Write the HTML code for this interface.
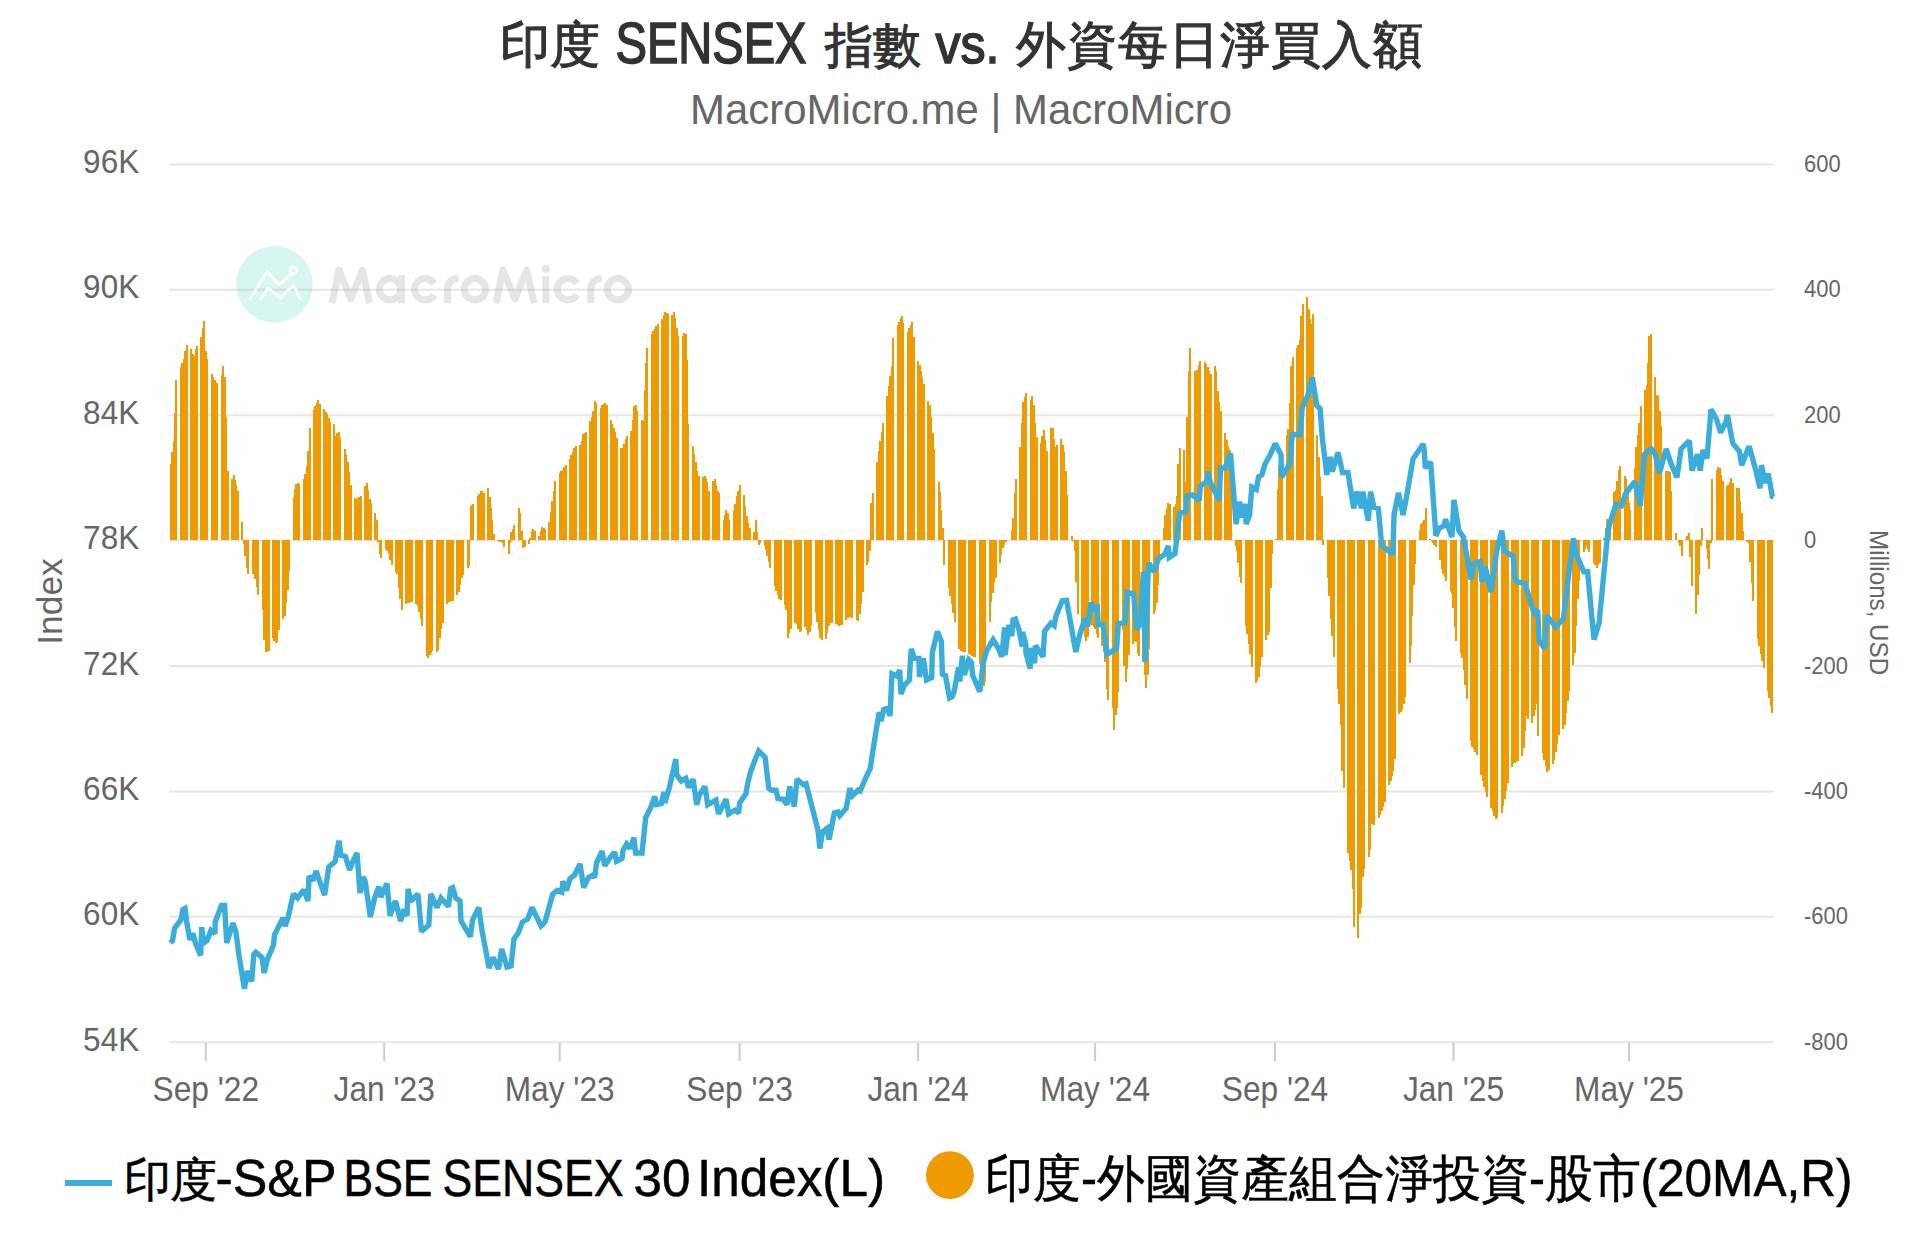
<!DOCTYPE html>
<html><head><meta charset="utf-8"><style>
html,body{margin:0;padding:0;background:#fff;width:1920px;height:1250px;overflow:hidden}
svg{display:block;font-family:"Liberation Sans",sans-serif}
</style></head><body>
<svg width="1920" height="1250" viewBox="0 0 1920 1250">
<rect width="1920" height="1250" fill="#fff"/>
<g fill="#333" font-size="50" stroke="#333" stroke-width="1.1">
<text x="500" y="62">印度</text>
<text x="615.5" y="63" font-size="57" stroke-width="1.6" textLength="191" lengthAdjust="spacingAndGlyphs">SENSEX</text>
<text x="825" y="62" font-size="48">指數</text>
<text x="935.5" y="63" font-size="55" stroke-width="1.6" textLength="64" lengthAdjust="spacingAndGlyphs">vs.</text>
<text x="1016" y="62" letter-spacing="1">外資每日淨買入額</text>
</g>
<text x="690" y="124" font-size="42" fill="#666" textLength="542" lengthAdjust="spacingAndGlyphs">MacroMicro.me | MacroMicro</text>

<g stroke="#e6e6e6" stroke-width="2">
<line x1="169" x2="1774" y1="164.4" y2="164.4"/>
<line x1="169" x2="1774" y1="289.8" y2="289.8"/>
<line x1="169" x2="1774" y1="415.2" y2="415.2"/>
<line x1="169" x2="1774" y1="540.6" y2="540.6"/>
<line x1="169" x2="1774" y1="666.0" y2="666.0"/>
<line x1="169" x2="1774" y1="791.4" y2="791.4"/>
<line x1="169" x2="1774" y1="916.8" y2="916.8"/>
<line x1="169" x2="1774" y1="1042.2" y2="1042.2"/>
</g>
<g stroke="#ccc" stroke-width="2">
<line x1="205.8" x2="205.8" y1="1043" y2="1061"/>
<line x1="384.2" x2="384.2" y1="1043" y2="1061"/>
<line x1="559.7" x2="559.7" y1="1043" y2="1061"/>
<line x1="739.6" x2="739.6" y1="1043" y2="1061"/>
<line x1="918.1" x2="918.1" y1="1043" y2="1061"/>
<line x1="1095.1" x2="1095.1" y1="1043" y2="1061"/>
<line x1="1275.0" x2="1275.0" y1="1043" y2="1061"/>
<line x1="1453.5" x2="1453.5" y1="1043" y2="1061"/>
<line x1="1629.0" x2="1629.0" y1="1043" y2="1061"/>
</g>
<g>
<circle cx="274.5" cy="284.3" r="38.3" fill="rgb(40,200,180)" fill-opacity="0.19"/>
<g fill="none" stroke="#fff" stroke-width="2.6" stroke-linecap="round" stroke-linejoin="round">
<polyline points="249.7,299 267.2,271.7 279.2,284.8 290.2,275"/>
<polyline points="260.6,299 268.3,288 280.3,298 293.4,284.8 300,299"/>
<circle cx="293.4" cy="270.6" r="3.3"/>
</g>
<g opacity="0.25"><g fill="none" stroke="rgb(150,160,160)" stroke-width="7" stroke-linejoin="round">
<path d="M332 303.3 L339 270 L350.8 299 L362.5 270 L369.5 303.3 M401.5 275 L401.5 303.3 M434.2 283.6 A10.65 10.65 0 1 0 434.2 294.8 M447.5 303.3 L447.5 289 Q448 279 458.5 278.6 M496 303.3 L503 270 L515 299 L526.7 270 L534 303.3 M545.8 276 L545.8 303.3 M577.0 283.6 A10.65 10.65 0 1 0 577.0 294.8 M590.7 303.3 L590.7 289 Q591.2 279 601.7 278.6"/>
<circle cx="390" cy="289.2" r="10.65"/>
<circle cx="475" cy="289.2" r="10.65"/>
<circle cx="617.9" cy="289.2" r="10.65"/>
</g>
<circle cx="545.8" cy="268.8" r="4.2" fill="rgb(150,160,160)"/></g>
</g>
<g font-size="33" fill="#666">
<text x="139.2" y="172.9" text-anchor="end" textLength="56.1" lengthAdjust="spacingAndGlyphs">96K</text>
<text x="139.2" y="298.3" text-anchor="end" textLength="56.1" lengthAdjust="spacingAndGlyphs">90K</text>
<text x="139.2" y="423.7" text-anchor="end" textLength="56.1" lengthAdjust="spacingAndGlyphs">84K</text>
<text x="139.2" y="549.1" text-anchor="end" textLength="56.1" lengthAdjust="spacingAndGlyphs">78K</text>
<text x="139.2" y="674.5" text-anchor="end" textLength="56.1" lengthAdjust="spacingAndGlyphs">72K</text>
<text x="139.2" y="799.9" text-anchor="end" textLength="56.1" lengthAdjust="spacingAndGlyphs">66K</text>
<text x="139.2" y="925.3" text-anchor="end" textLength="56.1" lengthAdjust="spacingAndGlyphs">60K</text>
<text x="139.2" y="1050.7" text-anchor="end" textLength="56.1" lengthAdjust="spacingAndGlyphs">54K</text>
<text x="205.8" y="1100.5" font-size="35" text-anchor="middle" textLength="106.5" lengthAdjust="spacingAndGlyphs">Sep '22</text>
<text x="384.2" y="1100.5" font-size="35" text-anchor="middle" textLength="101.2" lengthAdjust="spacingAndGlyphs">Jan '23</text>
<text x="559.7" y="1100.5" font-size="35" text-anchor="middle" textLength="110.0" lengthAdjust="spacingAndGlyphs">May '23</text>
<text x="739.6" y="1100.5" font-size="35" text-anchor="middle" textLength="106.5" lengthAdjust="spacingAndGlyphs">Sep '23</text>
<text x="918.1" y="1100.5" font-size="35" text-anchor="middle" textLength="101.2" lengthAdjust="spacingAndGlyphs">Jan '24</text>
<text x="1095.1" y="1100.5" font-size="35" text-anchor="middle" textLength="110.0" lengthAdjust="spacingAndGlyphs">May '24</text>
<text x="1275.0" y="1100.5" font-size="35" text-anchor="middle" textLength="106.5" lengthAdjust="spacingAndGlyphs">Sep '24</text>
<text x="1453.5" y="1100.5" font-size="35" text-anchor="middle" textLength="101.2" lengthAdjust="spacingAndGlyphs">Jan '25</text>
<text x="1629.0" y="1100.5" font-size="35" text-anchor="middle" textLength="110.0" lengthAdjust="spacingAndGlyphs">May '25</text>
</g>
<g font-size="24" fill="#666">
<text x="1804" y="172.0" textLength="36.6" lengthAdjust="spacingAndGlyphs">600</text>
<text x="1804" y="297.4" textLength="36.6" lengthAdjust="spacingAndGlyphs">400</text>
<text x="1804" y="422.8" textLength="36.6" lengthAdjust="spacingAndGlyphs">200</text>
<text x="1804" y="548.2" textLength="12.2" lengthAdjust="spacingAndGlyphs">0</text>
<text x="1804" y="673.6" textLength="43.9" lengthAdjust="spacingAndGlyphs">-200</text>
<text x="1804" y="799.0" textLength="43.9" lengthAdjust="spacingAndGlyphs">-400</text>
<text x="1804" y="924.4" textLength="43.9" lengthAdjust="spacingAndGlyphs">-600</text>
<text x="1804" y="1049.8" textLength="43.9" lengthAdjust="spacingAndGlyphs">-800</text>
</g>
<text transform="translate(61.8,601.5) rotate(-90)" text-anchor="middle" font-size="35" fill="#666" textLength="86.5" lengthAdjust="spacingAndGlyphs">Index</text>
<text transform="translate(1870.4,602.6) rotate(90)" text-anchor="middle" font-size="26" fill="#666" textLength="145" lengthAdjust="spacingAndGlyphs">Millions, USD</text>
<g fill="#ed9a03" shape-rendering="crispEdges">
<rect x="170" y="463.65" width="2" height="75.95"/>
<rect x="171" y="452.19" width="2" height="87.41"/>
<rect x="173" y="440.72" width="2" height="98.88"/>
<rect x="174" y="412.85" width="2" height="126.75"/>
<rect x="175" y="379.50" width="2" height="160.10"/>
<rect x="180" y="367.30" width="2" height="172.30"/>
<rect x="181" y="363.23" width="2" height="176.37"/>
<rect x="183" y="359.16" width="2" height="180.44"/>
<rect x="184" y="351.25" width="2" height="188.35"/>
<rect x="186" y="345.46" width="2" height="194.14"/>
<rect x="190" y="349.24" width="2" height="190.36"/>
<rect x="192" y="353.51" width="2" height="186.09"/>
<rect x="193" y="356.26" width="2" height="183.34"/>
<rect x="195" y="348.95" width="2" height="190.65"/>
<rect x="196" y="346.49" width="2" height="193.11"/>
<rect x="200" y="336.75" width="2" height="202.85"/>
<rect x="202" y="327.93" width="2" height="211.67"/>
<rect x="203" y="321.12" width="2" height="218.48"/>
<rect x="205" y="350.82" width="2" height="188.78"/>
<rect x="206" y="358.80" width="2" height="180.80"/>
<rect x="211" y="374.18" width="2" height="165.42"/>
<rect x="212" y="377.20" width="2" height="162.40"/>
<rect x="214" y="380.09" width="2" height="159.51"/>
<rect x="215" y="382.98" width="2" height="156.62"/>
<rect x="216" y="382.83" width="2" height="156.77"/>
<rect x="221" y="374.53" width="2" height="165.07"/>
<rect x="222" y="366.02" width="2" height="173.58"/>
<rect x="224" y="377.16" width="2" height="162.44"/>
<rect x="225" y="416.70" width="2" height="122.90"/>
<rect x="227" y="470.60" width="2" height="69.00"/>
<rect x="231" y="478.76" width="2" height="60.84"/>
<rect x="233" y="474.66" width="2" height="64.94"/>
<rect x="234" y="479.68" width="2" height="59.92"/>
<rect x="235" y="484.71" width="2" height="54.89"/>
<rect x="237" y="490.92" width="2" height="48.68"/>
<rect x="241" y="521.81" width="2" height="17.79"/>
<rect x="243" y="539.60" width="2" height="4.84"/>
<rect x="244" y="539.60" width="2" height="16.50"/>
<rect x="246" y="539.60" width="2" height="28.13"/>
<rect x="247" y="539.60" width="2" height="34.47"/>
<rect x="252" y="539.60" width="2" height="33.92"/>
<rect x="253" y="539.60" width="2" height="32.64"/>
<rect x="254" y="539.60" width="2" height="39.08"/>
<rect x="256" y="539.60" width="2" height="47.35"/>
<rect x="257" y="539.60" width="2" height="55.62"/>
<rect x="262" y="539.60" width="2" height="70.39"/>
<rect x="263" y="539.60" width="2" height="100.13"/>
<rect x="265" y="539.60" width="2" height="112.83"/>
<rect x="266" y="539.60" width="2" height="112.17"/>
<rect x="268" y="539.60" width="2" height="111.51"/>
<rect x="272" y="539.60" width="2" height="98.86"/>
<rect x="273" y="539.60" width="2" height="101.21"/>
<rect x="275" y="539.60" width="2" height="103.57"/>
<rect x="276" y="539.60" width="2" height="102.63"/>
<rect x="278" y="539.60" width="2" height="90.09"/>
<rect x="282" y="539.60" width="2" height="79.25"/>
<rect x="284" y="539.60" width="2" height="76.08"/>
<rect x="285" y="539.60" width="2" height="63.43"/>
<rect x="287" y="539.60" width="2" height="50.78"/>
<rect x="288" y="539.60" width="2" height="31.01"/>
<rect x="293" y="497.46" width="2" height="42.14"/>
<rect x="294" y="489.02" width="2" height="50.58"/>
<rect x="295" y="484.06" width="2" height="55.54"/>
<rect x="297" y="483.20" width="2" height="56.40"/>
<rect x="298" y="484.22" width="2" height="55.38"/>
<rect x="303" y="479.07" width="2" height="60.53"/>
<rect x="304" y="473.95" width="2" height="65.65"/>
<rect x="306" y="465.66" width="2" height="73.94"/>
<rect x="307" y="450.93" width="2" height="88.67"/>
<rect x="309" y="427.94" width="2" height="111.66"/>
<rect x="313" y="409.93" width="2" height="129.67"/>
<rect x="314" y="405.94" width="2" height="133.66"/>
<rect x="316" y="402.58" width="2" height="137.02"/>
<rect x="317" y="400.29" width="2" height="139.31"/>
<rect x="319" y="404.29" width="2" height="135.31"/>
<rect x="323" y="409.47" width="2" height="130.13"/>
<rect x="325" y="411.59" width="2" height="128.01"/>
<rect x="326" y="413.78" width="2" height="125.82"/>
<rect x="328" y="417.96" width="2" height="121.64"/>
<rect x="329" y="422.34" width="2" height="117.26"/>
<rect x="333" y="423.51" width="2" height="116.09"/>
<rect x="335" y="436.00" width="2" height="103.60"/>
<rect x="336" y="433.16" width="2" height="106.44"/>
<rect x="338" y="432.43" width="2" height="107.17"/>
<rect x="339" y="438.28" width="2" height="101.32"/>
<rect x="344" y="448.91" width="2" height="90.69"/>
<rect x="345" y="454.15" width="2" height="85.45"/>
<rect x="347" y="461.89" width="2" height="77.71"/>
<rect x="348" y="471.59" width="2" height="68.01"/>
<rect x="350" y="485.09" width="2" height="54.51"/>
<rect x="354" y="497.83" width="2" height="41.77"/>
<rect x="355" y="498.86" width="2" height="40.74"/>
<rect x="357" y="497.91" width="2" height="41.69"/>
<rect x="358" y="496.95" width="2" height="42.65"/>
<rect x="360" y="496.00" width="2" height="43.60"/>
<rect x="364" y="486.13" width="2" height="53.47"/>
<rect x="366" y="482.84" width="2" height="56.76"/>
<rect x="367" y="490.25" width="2" height="49.35"/>
<rect x="369" y="498.88" width="2" height="40.72"/>
<rect x="370" y="503.13" width="2" height="36.47"/>
<rect x="374" y="512.80" width="2" height="26.80"/>
<rect x="376" y="520.21" width="2" height="19.39"/>
<rect x="377" y="539.60" width="2" height="1.94"/>
<rect x="379" y="539.60" width="2" height="13.94"/>
<rect x="380" y="539.60" width="2" height="18.51"/>
<rect x="385" y="539.60" width="2" height="9.37"/>
<rect x="386" y="539.60" width="2" height="11.49"/>
<rect x="388" y="539.60" width="2" height="14.81"/>
<rect x="389" y="539.60" width="2" height="20.52"/>
<rect x="391" y="539.60" width="2" height="25.48"/>
<rect x="395" y="539.60" width="2" height="32.09"/>
<rect x="396" y="539.60" width="2" height="34.81"/>
<rect x="398" y="539.60" width="2" height="48.12"/>
<rect x="399" y="539.60" width="2" height="59.09"/>
<rect x="401" y="539.60" width="2" height="70.06"/>
<rect x="405" y="539.60" width="2" height="64.56"/>
<rect x="407" y="539.60" width="2" height="63.23"/>
<rect x="408" y="539.60" width="2" height="62.93"/>
<rect x="410" y="539.60" width="2" height="62.62"/>
<rect x="411" y="539.60" width="2" height="62.56"/>
<rect x="415" y="539.60" width="2" height="64.31"/>
<rect x="417" y="539.60" width="2" height="65.95"/>
<rect x="418" y="539.60" width="2" height="72.84"/>
<rect x="420" y="539.60" width="2" height="79.73"/>
<rect x="421" y="539.60" width="2" height="86.61"/>
<rect x="426" y="539.60" width="2" height="115.98"/>
<rect x="427" y="539.60" width="2" height="118.33"/>
<rect x="429" y="539.60" width="2" height="115.74"/>
<rect x="430" y="539.60" width="2" height="113.15"/>
<rect x="431" y="539.60" width="2" height="111.50"/>
<rect x="436" y="539.60" width="2" height="112.45"/>
<rect x="437" y="539.60" width="2" height="110.10"/>
<rect x="439" y="539.60" width="2" height="98.34"/>
<rect x="440" y="539.60" width="2" height="89.75"/>
<rect x="442" y="539.60" width="2" height="83.45"/>
<rect x="446" y="539.60" width="2" height="64.56"/>
<rect x="448" y="539.60" width="2" height="62.21"/>
<rect x="449" y="539.60" width="2" height="61.92"/>
<rect x="450" y="539.60" width="2" height="61.62"/>
<rect x="452" y="539.60" width="2" height="61.33"/>
<rect x="456" y="539.60" width="2" height="55.59"/>
<rect x="458" y="539.60" width="2" height="52.13"/>
<rect x="459" y="539.60" width="2" height="45.30"/>
<rect x="461" y="539.60" width="2" height="38.48"/>
<rect x="462" y="539.60" width="2" height="35.42"/>
<rect x="467" y="539.60" width="2" height="28.83"/>
<rect x="468" y="539.60" width="2" height="26.64"/>
<rect x="470" y="505.93" width="2" height="33.67"/>
<rect x="471" y="504.96" width="2" height="34.64"/>
<rect x="472" y="503.98" width="2" height="35.62"/>
<rect x="477" y="496.04" width="2" height="43.56"/>
<rect x="478" y="493.60" width="2" height="46.00"/>
<rect x="480" y="491.16" width="2" height="48.44"/>
<rect x="481" y="491.40" width="2" height="48.20"/>
<rect x="483" y="492.87" width="2" height="46.73"/>
<rect x="487" y="488.20" width="2" height="51.40"/>
<rect x="489" y="497.10" width="2" height="42.50"/>
<rect x="490" y="507.96" width="2" height="31.64"/>
<rect x="491" y="519.92" width="2" height="19.68"/>
<rect x="493" y="534.19" width="2" height="5.41"/>
<rect x="497" y="539.60" width="2" height="1.25"/>
<rect x="499" y="539.60" width="2" height="1.95"/>
<rect x="500" y="539.60" width="2" height="2.65"/>
<rect x="502" y="539.60" width="2" height="3.34"/>
<rect x="503" y="539.60" width="2" height="7.32"/>
<rect x="508" y="539.60" width="2" height="14.10"/>
<rect x="509" y="539.60" width="2" height="3.31"/>
<rect x="510" y="532.44" width="2" height="7.16"/>
<rect x="512" y="528.75" width="2" height="10.85"/>
<rect x="513" y="525.05" width="2" height="14.55"/>
<rect x="518" y="508.11" width="2" height="31.49"/>
<rect x="519" y="512.87" width="2" height="26.73"/>
<rect x="521" y="531.46" width="2" height="8.14"/>
<rect x="522" y="539.60" width="2" height="8.30"/>
<rect x="524" y="539.60" width="2" height="7.43"/>
<rect x="528" y="539.60" width="2" height="4.75"/>
<rect x="529" y="537.88" width="2" height="1.72"/>
<rect x="531" y="531.42" width="2" height="8.18"/>
<rect x="532" y="528.54" width="2" height="11.06"/>
<rect x="534" y="530.83" width="2" height="8.77"/>
<rect x="538" y="535.67" width="2" height="3.93"/>
<rect x="540" y="531.37" width="2" height="8.23"/>
<rect x="541" y="527.06" width="2" height="12.54"/>
<rect x="543" y="528.26" width="2" height="11.34"/>
<rect x="544" y="529.47" width="2" height="10.13"/>
<rect x="548" y="521.79" width="2" height="17.81"/>
<rect x="550" y="511.61" width="2" height="27.99"/>
<rect x="551" y="500.80" width="2" height="38.80"/>
<rect x="553" y="490.64" width="2" height="48.96"/>
<rect x="554" y="481.24" width="2" height="58.36"/>
<rect x="559" y="473.00" width="2" height="66.60"/>
<rect x="560" y="471.44" width="2" height="68.16"/>
<rect x="562" y="469.51" width="2" height="70.09"/>
<rect x="563" y="467.43" width="2" height="72.17"/>
<rect x="565" y="465.34" width="2" height="74.26"/>
<rect x="569" y="459.05" width="2" height="80.55"/>
<rect x="570" y="455.42" width="2" height="84.18"/>
<rect x="572" y="451.77" width="2" height="87.83"/>
<rect x="573" y="448.11" width="2" height="91.49"/>
<rect x="575" y="445.98" width="2" height="93.62"/>
<rect x="579" y="444.80" width="2" height="94.80"/>
<rect x="581" y="440.89" width="2" height="98.71"/>
<rect x="582" y="434.30" width="2" height="105.30"/>
<rect x="584" y="433.07" width="2" height="106.53"/>
<rect x="585" y="432.09" width="2" height="107.51"/>
<rect x="589" y="420.69" width="2" height="118.91"/>
<rect x="591" y="417.03" width="2" height="122.57"/>
<rect x="592" y="410.88" width="2" height="128.72"/>
<rect x="594" y="400.85" width="2" height="138.75"/>
<rect x="595" y="402.71" width="2" height="136.89"/>
<rect x="600" y="408.29" width="2" height="131.31"/>
<rect x="601" y="404.63" width="2" height="134.97"/>
<rect x="603" y="403.60" width="2" height="136.00"/>
<rect x="604" y="403.11" width="2" height="136.49"/>
<rect x="606" y="404.94" width="2" height="134.66"/>
<rect x="610" y="419.83" width="2" height="119.77"/>
<rect x="611" y="424.05" width="2" height="115.55"/>
<rect x="613" y="428.03" width="2" height="111.57"/>
<rect x="614" y="432.02" width="2" height="107.58"/>
<rect x="616" y="437.71" width="2" height="101.89"/>
<rect x="620" y="447.80" width="2" height="91.80"/>
<rect x="622" y="448.34" width="2" height="91.26"/>
<rect x="623" y="444.10" width="2" height="95.50"/>
<rect x="625" y="439.23" width="2" height="100.37"/>
<rect x="626" y="436.08" width="2" height="103.52"/>
<rect x="630" y="430.91" width="2" height="108.69"/>
<rect x="632" y="419.68" width="2" height="119.92"/>
<rect x="633" y="405.63" width="2" height="133.97"/>
<rect x="635" y="404.72" width="2" height="134.88"/>
<rect x="636" y="410.64" width="2" height="128.96"/>
<rect x="641" y="420.23" width="2" height="119.37"/>
<rect x="642" y="421.33" width="2" height="118.27"/>
<rect x="644" y="389.97" width="2" height="149.63"/>
<rect x="645" y="363.19" width="2" height="176.41"/>
<rect x="646" y="348.37" width="2" height="191.23"/>
<rect x="651" y="334.23" width="2" height="205.37"/>
<rect x="652" y="331.20" width="2" height="208.40"/>
<rect x="654" y="328.59" width="2" height="211.01"/>
<rect x="655" y="325.66" width="2" height="213.94"/>
<rect x="657" y="324.07" width="2" height="215.53"/>
<rect x="661" y="319.13" width="2" height="220.47"/>
<rect x="663" y="315.16" width="2" height="224.44"/>
<rect x="664" y="311.62" width="2" height="227.98"/>
<rect x="666" y="312.92" width="2" height="226.68"/>
<rect x="667" y="314.22" width="2" height="225.38"/>
<rect x="671" y="314.63" width="2" height="224.97"/>
<rect x="673" y="312.32" width="2" height="227.28"/>
<rect x="674" y="317.98" width="2" height="221.62"/>
<rect x="676" y="327.94" width="2" height="211.66"/>
<rect x="677" y="336.35" width="2" height="203.25"/>
<rect x="682" y="336.36" width="2" height="203.24"/>
<rect x="683" y="333.25" width="2" height="206.35"/>
<rect x="685" y="334.34" width="2" height="205.26"/>
<rect x="686" y="360.46" width="2" height="179.14"/>
<rect x="687" y="424.06" width="2" height="115.54"/>
<rect x="692" y="446.28" width="2" height="93.32"/>
<rect x="693" y="453.60" width="2" height="86.00"/>
<rect x="695" y="462.25" width="2" height="77.35"/>
<rect x="696" y="470.75" width="2" height="68.85"/>
<rect x="698" y="475.67" width="2" height="63.93"/>
<rect x="702" y="476.61" width="2" height="62.99"/>
<rect x="704" y="476.45" width="2" height="63.15"/>
<rect x="705" y="479.22" width="2" height="60.38"/>
<rect x="706" y="481.99" width="2" height="57.61"/>
<rect x="708" y="491.30" width="2" height="48.30"/>
<rect x="712" y="481.11" width="2" height="58.49"/>
<rect x="714" y="479.20" width="2" height="60.40"/>
<rect x="715" y="485.22" width="2" height="54.38"/>
<rect x="717" y="490.75" width="2" height="48.85"/>
<rect x="718" y="493.26" width="2" height="46.34"/>
<rect x="723" y="520.22" width="2" height="19.38"/>
<rect x="724" y="515.20" width="2" height="24.40"/>
<rect x="725" y="510.19" width="2" height="29.41"/>
<rect x="727" y="512.92" width="2" height="26.68"/>
<rect x="728" y="519.94" width="2" height="19.66"/>
<rect x="733" y="510.74" width="2" height="28.86"/>
<rect x="734" y="504.34" width="2" height="35.26"/>
<rect x="736" y="496.33" width="2" height="43.27"/>
<rect x="737" y="490.67" width="2" height="48.93"/>
<rect x="739" y="485.01" width="2" height="54.59"/>
<rect x="743" y="495.23" width="2" height="44.37"/>
<rect x="744" y="505.85" width="2" height="33.75"/>
<rect x="746" y="516.46" width="2" height="23.14"/>
<rect x="747" y="523.16" width="2" height="16.44"/>
<rect x="749" y="527.55" width="2" height="12.05"/>
<rect x="753" y="532.11" width="2" height="7.49"/>
<rect x="755" y="520.17" width="2" height="19.43"/>
<rect x="756" y="532.36" width="2" height="7.24"/>
<rect x="758" y="539.60" width="2" height="5.53"/>
<rect x="759" y="539.60" width="2" height="3.64"/>
<rect x="764" y="539.60" width="2" height="6.36"/>
<rect x="765" y="539.60" width="2" height="10.34"/>
<rect x="766" y="539.60" width="2" height="16.36"/>
<rect x="768" y="539.60" width="2" height="22.38"/>
<rect x="769" y="539.60" width="2" height="28.03"/>
<rect x="774" y="539.60" width="2" height="46.88"/>
<rect x="775" y="539.60" width="2" height="51.54"/>
<rect x="777" y="539.60" width="2" height="55.81"/>
<rect x="778" y="539.60" width="2" height="59.22"/>
<rect x="780" y="539.60" width="2" height="60.62"/>
<rect x="784" y="539.60" width="2" height="65.56"/>
<rect x="785" y="539.60" width="2" height="70.29"/>
<rect x="787" y="539.60" width="2" height="98.12"/>
<rect x="788" y="539.60" width="2" height="93.87"/>
<rect x="790" y="539.60" width="2" height="89.48"/>
<rect x="794" y="539.60" width="2" height="83.03"/>
<rect x="796" y="539.60" width="2" height="84.41"/>
<rect x="797" y="539.60" width="2" height="89.53"/>
<rect x="799" y="539.60" width="2" height="92.78"/>
<rect x="800" y="539.60" width="2" height="91.32"/>
<rect x="804" y="539.60" width="2" height="86.93"/>
<rect x="806" y="539.60" width="2" height="90.79"/>
<rect x="807" y="539.60" width="2" height="95.17"/>
<rect x="809" y="539.60" width="2" height="92.18"/>
<rect x="810" y="539.60" width="2" height="86.33"/>
<rect x="815" y="539.60" width="2" height="73.66"/>
<rect x="816" y="539.60" width="2" height="81.95"/>
<rect x="818" y="539.60" width="2" height="90.24"/>
<rect x="819" y="539.60" width="2" height="98.12"/>
<rect x="821" y="539.60" width="2" height="100.07"/>
<rect x="825" y="539.60" width="2" height="99.44"/>
<rect x="826" y="539.60" width="2" height="93.10"/>
<rect x="828" y="539.60" width="2" height="86.76"/>
<rect x="829" y="539.60" width="2" height="83.60"/>
<rect x="831" y="539.60" width="2" height="83.60"/>
<rect x="835" y="539.60" width="2" height="84.79"/>
<rect x="837" y="539.60" width="2" height="85.76"/>
<rect x="838" y="539.60" width="2" height="86.74"/>
<rect x="840" y="539.60" width="2" height="85.89"/>
<rect x="841" y="539.60" width="2" height="84.91"/>
<rect x="845" y="539.60" width="2" height="80.37"/>
<rect x="847" y="539.60" width="2" height="78.42"/>
<rect x="848" y="539.60" width="2" height="77.34"/>
<rect x="850" y="539.60" width="2" height="77.70"/>
<rect x="851" y="539.60" width="2" height="78.07"/>
<rect x="856" y="539.60" width="2" height="80.26"/>
<rect x="857" y="539.60" width="2" height="81.72"/>
<rect x="859" y="539.60" width="2" height="74.29"/>
<rect x="860" y="539.60" width="2" height="64.78"/>
<rect x="862" y="539.60" width="2" height="52.08"/>
<rect x="866" y="539.60" width="2" height="25.00"/>
<rect x="867" y="539.60" width="2" height="22.07"/>
<rect x="869" y="539.60" width="2" height="11.69"/>
<rect x="870" y="502.62" width="2" height="36.98"/>
<rect x="872" y="493.12" width="2" height="46.48"/>
<rect x="876" y="461.85" width="2" height="77.75"/>
<rect x="878" y="451.38" width="2" height="88.22"/>
<rect x="879" y="441.15" width="2" height="98.45"/>
<rect x="881" y="431.63" width="2" height="107.97"/>
<rect x="882" y="422.86" width="2" height="116.74"/>
<rect x="886" y="396.35" width="2" height="143.25"/>
<rect x="888" y="386.11" width="2" height="153.49"/>
<rect x="889" y="375.87" width="2" height="163.73"/>
<rect x="891" y="365.63" width="2" height="173.97"/>
<rect x="892" y="338.18" width="2" height="201.42"/>
<rect x="897" y="325.04" width="2" height="214.56"/>
<rect x="898" y="321.96" width="2" height="217.64"/>
<rect x="900" y="317.57" width="2" height="222.03"/>
<rect x="901" y="316.16" width="2" height="223.44"/>
<rect x="902" y="322.50" width="2" height="217.10"/>
<rect x="907" y="331.56" width="2" height="208.04"/>
<rect x="908" y="327.90" width="2" height="211.70"/>
<rect x="910" y="324.84" width="2" height="214.76"/>
<rect x="911" y="321.91" width="2" height="217.69"/>
<rect x="913" y="337.14" width="2" height="202.46"/>
<rect x="917" y="360.69" width="2" height="178.91"/>
<rect x="919" y="365.43" width="2" height="174.17"/>
<rect x="920" y="371.28" width="2" height="168.32"/>
<rect x="921" y="377.16" width="2" height="162.44"/>
<rect x="923" y="383.50" width="2" height="156.10"/>
<rect x="927" y="401.00" width="2" height="138.60"/>
<rect x="929" y="405.39" width="2" height="134.21"/>
<rect x="930" y="416.66" width="2" height="122.94"/>
<rect x="932" y="432.75" width="2" height="106.85"/>
<rect x="933" y="448.84" width="2" height="90.76"/>
<rect x="938" y="482.49" width="2" height="57.11"/>
<rect x="939" y="492.44" width="2" height="47.16"/>
<rect x="940" y="509.99" width="2" height="29.61"/>
<rect x="942" y="527.54" width="2" height="12.06"/>
<rect x="943" y="539.60" width="2" height="25.09"/>
<rect x="948" y="539.60" width="2" height="48.21"/>
<rect x="949" y="539.60" width="2" height="56.50"/>
<rect x="951" y="539.60" width="2" height="64.78"/>
<rect x="952" y="539.60" width="2" height="73.31"/>
<rect x="954" y="539.60" width="2" height="82.45"/>
<rect x="958" y="539.60" width="2" height="109.87"/>
<rect x="960" y="539.60" width="2" height="111.24"/>
<rect x="961" y="539.60" width="2" height="111.73"/>
<rect x="962" y="539.60" width="2" height="112.21"/>
<rect x="964" y="539.60" width="2" height="112.70"/>
<rect x="968" y="539.60" width="2" height="114.33"/>
<rect x="970" y="539.60" width="2" height="115.30"/>
<rect x="971" y="539.60" width="2" height="116.28"/>
<rect x="973" y="539.60" width="2" height="117.23"/>
<rect x="974" y="539.60" width="2" height="117.71"/>
<rect x="979" y="539.60" width="2" height="124.45"/>
<rect x="980" y="539.60" width="2" height="131.76"/>
<rect x="981" y="539.60" width="2" height="139.08"/>
<rect x="983" y="539.60" width="2" height="146.39"/>
<rect x="984" y="539.60" width="2" height="142.81"/>
<rect x="989" y="539.60" width="2" height="82.47"/>
<rect x="990" y="539.60" width="2" height="62.59"/>
<rect x="992" y="539.60" width="2" height="53.09"/>
<rect x="993" y="539.60" width="2" height="43.58"/>
<rect x="995" y="539.60" width="2" height="38.34"/>
<rect x="999" y="539.60" width="2" height="23.15"/>
<rect x="1000" y="539.60" width="2" height="15.11"/>
<rect x="1002" y="539.60" width="2" height="8.67"/>
<rect x="1003" y="539.60" width="2" height="5.01"/>
<rect x="1005" y="539.60" width="2" height="1.91"/>
<rect x="1009" y="539.60" width="2" height="0.45"/>
<rect x="1011" y="530.33" width="2" height="9.27"/>
<rect x="1012" y="517.91" width="2" height="21.69"/>
<rect x="1014" y="493.44" width="2" height="46.16"/>
<rect x="1015" y="478.61" width="2" height="60.99"/>
<rect x="1019" y="447.18" width="2" height="92.42"/>
<rect x="1021" y="423.04" width="2" height="116.56"/>
<rect x="1022" y="401.76" width="2" height="137.84"/>
<rect x="1024" y="397.38" width="2" height="142.22"/>
<rect x="1025" y="392.99" width="2" height="146.61"/>
<rect x="1030" y="399.59" width="2" height="140.01"/>
<rect x="1031" y="395.93" width="2" height="143.67"/>
<rect x="1033" y="405.04" width="2" height="134.56"/>
<rect x="1034" y="423.32" width="2" height="116.28"/>
<rect x="1036" y="437.28" width="2" height="102.32"/>
<rect x="1040" y="442.75" width="2" height="96.85"/>
<rect x="1041" y="436.42" width="2" height="103.18"/>
<rect x="1043" y="430.08" width="2" height="109.52"/>
<rect x="1044" y="439.74" width="2" height="99.86"/>
<rect x="1046" y="450.71" width="2" height="88.89"/>
<rect x="1050" y="428.24" width="2" height="111.36"/>
<rect x="1052" y="428.20" width="2" height="111.40"/>
<rect x="1053" y="439.17" width="2" height="100.43"/>
<rect x="1055" y="446.71" width="2" height="92.89"/>
<rect x="1056" y="444.88" width="2" height="94.72"/>
<rect x="1060" y="439.40" width="2" height="100.20"/>
<rect x="1062" y="445.07" width="2" height="94.53"/>
<rect x="1063" y="451.66" width="2" height="87.94"/>
<rect x="1065" y="470.61" width="2" height="68.99"/>
<rect x="1066" y="494.74" width="2" height="44.86"/>
<rect x="1071" y="535.53" width="2" height="4.07"/>
<rect x="1072" y="539.60" width="2" height="1.78"/>
<rect x="1074" y="539.60" width="2" height="11.25"/>
<rect x="1075" y="539.60" width="2" height="42.70"/>
<rect x="1077" y="539.60" width="2" height="74.15"/>
<rect x="1081" y="539.60" width="2" height="86.03"/>
<rect x="1082" y="539.60" width="2" height="91.02"/>
<rect x="1084" y="539.60" width="2" height="97.30"/>
<rect x="1085" y="539.60" width="2" height="101.33"/>
<rect x="1087" y="539.60" width="2" height="97.15"/>
<rect x="1091" y="539.60" width="2" height="85.07"/>
<rect x="1093" y="539.60" width="2" height="87.44"/>
<rect x="1094" y="539.60" width="2" height="89.81"/>
<rect x="1096" y="539.60" width="2" height="94.75"/>
<rect x="1097" y="539.60" width="2" height="97.98"/>
<rect x="1101" y="539.60" width="2" height="106.75"/>
<rect x="1103" y="539.60" width="2" height="112.35"/>
<rect x="1104" y="539.60" width="2" height="122.69"/>
<rect x="1106" y="539.60" width="2" height="149.69"/>
<rect x="1107" y="539.60" width="2" height="160.09"/>
<rect x="1112" y="539.60" width="2" height="168.66"/>
<rect x="1113" y="539.60" width="2" height="190.34"/>
<rect x="1115" y="539.60" width="2" height="175.87"/>
<rect x="1116" y="539.60" width="2" height="168.33"/>
<rect x="1117" y="539.60" width="2" height="152.19"/>
<rect x="1122" y="539.60" width="2" height="90.61"/>
<rect x="1123" y="539.60" width="2" height="126.77"/>
<rect x="1125" y="539.60" width="2" height="142.86"/>
<rect x="1126" y="539.60" width="2" height="129.11"/>
<rect x="1128" y="539.60" width="2" height="115.36"/>
<rect x="1132" y="539.60" width="2" height="104.57"/>
<rect x="1134" y="539.60" width="2" height="101.64"/>
<rect x="1135" y="539.60" width="2" height="102.17"/>
<rect x="1137" y="539.60" width="2" height="114.02"/>
<rect x="1138" y="539.60" width="2" height="116.62"/>
<rect x="1142" y="539.60" width="2" height="122.88"/>
<rect x="1144" y="539.60" width="2" height="135.71"/>
<rect x="1145" y="539.60" width="2" height="148.54"/>
<rect x="1147" y="539.60" width="2" height="135.01"/>
<rect x="1148" y="539.60" width="2" height="109.07"/>
<rect x="1153" y="539.60" width="2" height="74.38"/>
<rect x="1154" y="539.60" width="2" height="71.87"/>
<rect x="1156" y="539.60" width="2" height="62.95"/>
<rect x="1157" y="539.60" width="2" height="45.39"/>
<rect x="1158" y="539.60" width="2" height="19.43"/>
<rect x="1163" y="527.89" width="2" height="11.71"/>
<rect x="1164" y="515.48" width="2" height="24.12"/>
<rect x="1166" y="508.71" width="2" height="30.89"/>
<rect x="1167" y="503.42" width="2" height="36.18"/>
<rect x="1169" y="504.08" width="2" height="35.52"/>
<rect x="1173" y="507.07" width="2" height="32.53"/>
<rect x="1175" y="503.82" width="2" height="35.78"/>
<rect x="1176" y="496.27" width="2" height="43.33"/>
<rect x="1177" y="464.22" width="2" height="75.38"/>
<rect x="1179" y="447.91" width="2" height="91.69"/>
<rect x="1183" y="450.42" width="2" height="89.18"/>
<rect x="1185" y="482.02" width="2" height="57.58"/>
<rect x="1186" y="416.87" width="2" height="122.73"/>
<rect x="1188" y="370.87" width="2" height="168.73"/>
<rect x="1189" y="347.80" width="2" height="191.80"/>
<rect x="1194" y="370.56" width="2" height="169.04"/>
<rect x="1195" y="375.54" width="2" height="164.06"/>
<rect x="1196" y="370.36" width="2" height="169.24"/>
<rect x="1198" y="365.28" width="2" height="174.32"/>
<rect x="1199" y="360.60" width="2" height="179.00"/>
<rect x="1204" y="361.74" width="2" height="177.86"/>
<rect x="1205" y="363.77" width="2" height="175.83"/>
<rect x="1207" y="367.38" width="2" height="172.22"/>
<rect x="1208" y="370.98" width="2" height="168.62"/>
<rect x="1210" y="373.60" width="2" height="166.00"/>
<rect x="1214" y="366.23" width="2" height="173.37"/>
<rect x="1215" y="371.21" width="2" height="168.39"/>
<rect x="1217" y="390.89" width="2" height="148.71"/>
<rect x="1218" y="401.92" width="2" height="137.68"/>
<rect x="1220" y="410.90" width="2" height="128.70"/>
<rect x="1224" y="433.29" width="2" height="106.31"/>
<rect x="1226" y="439.97" width="2" height="99.63"/>
<rect x="1227" y="446.33" width="2" height="93.27"/>
<rect x="1229" y="449.95" width="2" height="89.65"/>
<rect x="1230" y="453.35" width="2" height="86.25"/>
<rect x="1235" y="539.60" width="2" height="6.49"/>
<rect x="1236" y="539.60" width="2" height="11.52"/>
<rect x="1237" y="539.60" width="2" height="23.25"/>
<rect x="1239" y="539.60" width="2" height="37.77"/>
<rect x="1240" y="539.60" width="2" height="43.41"/>
<rect x="1245" y="539.60" width="2" height="86.40"/>
<rect x="1246" y="539.60" width="2" height="94.83"/>
<rect x="1248" y="539.60" width="2" height="103.90"/>
<rect x="1249" y="539.60" width="2" height="114.02"/>
<rect x="1251" y="539.60" width="2" height="127.35"/>
<rect x="1255" y="539.60" width="2" height="143.15"/>
<rect x="1256" y="539.60" width="2" height="141.72"/>
<rect x="1258" y="539.60" width="2" height="137.69"/>
<rect x="1259" y="539.60" width="2" height="126.94"/>
<rect x="1261" y="539.60" width="2" height="117.69"/>
<rect x="1265" y="539.60" width="2" height="100.45"/>
<rect x="1267" y="539.60" width="2" height="95.66"/>
<rect x="1268" y="539.60" width="2" height="91.96"/>
<rect x="1270" y="539.60" width="2" height="48.68"/>
<rect x="1271" y="539.60" width="2" height="14.43"/>
<rect x="1275" y="538.95" width="2" height="0.65"/>
<rect x="1277" y="489.05" width="2" height="50.55"/>
<rect x="1278" y="465.45" width="2" height="74.15"/>
<rect x="1280" y="462.32" width="2" height="77.28"/>
<rect x="1281" y="455.79" width="2" height="83.81"/>
<rect x="1286" y="435.23" width="2" height="104.37"/>
<rect x="1287" y="428.52" width="2" height="111.08"/>
<rect x="1289" y="403.26" width="2" height="136.34"/>
<rect x="1290" y="365.65" width="2" height="173.95"/>
<rect x="1292" y="356.74" width="2" height="182.86"/>
<rect x="1296" y="348.14" width="2" height="191.46"/>
<rect x="1297" y="344.78" width="2" height="194.82"/>
<rect x="1299" y="339.76" width="2" height="199.84"/>
<rect x="1300" y="315.56" width="2" height="224.04"/>
<rect x="1302" y="303.66" width="2" height="235.94"/>
<rect x="1306" y="297.16" width="2" height="242.44"/>
<rect x="1308" y="308.60" width="2" height="231.00"/>
<rect x="1309" y="319.24" width="2" height="220.36"/>
<rect x="1311" y="324.39" width="2" height="215.21"/>
<rect x="1312" y="314.02" width="2" height="225.58"/>
<rect x="1316" y="435.10" width="2" height="104.50"/>
<rect x="1318" y="457.21" width="2" height="82.39"/>
<rect x="1319" y="476.79" width="2" height="62.81"/>
<rect x="1321" y="496.15" width="2" height="43.45"/>
<rect x="1322" y="539.60" width="2" height="4.93"/>
<rect x="1327" y="539.60" width="2" height="38.23"/>
<rect x="1328" y="539.60" width="2" height="56.14"/>
<rect x="1330" y="539.60" width="2" height="79.57"/>
<rect x="1331" y="539.60" width="2" height="96.06"/>
<rect x="1333" y="539.60" width="2" height="117.03"/>
<rect x="1337" y="539.60" width="2" height="149.20"/>
<rect x="1338" y="539.60" width="2" height="164.73"/>
<rect x="1340" y="539.60" width="2" height="184.92"/>
<rect x="1341" y="539.60" width="2" height="231.08"/>
<rect x="1343" y="539.60" width="2" height="248.34"/>
<rect x="1347" y="539.60" width="2" height="313.85"/>
<rect x="1349" y="539.60" width="2" height="321.79"/>
<rect x="1350" y="539.60" width="2" height="330.21"/>
<rect x="1352" y="539.60" width="2" height="349.39"/>
<rect x="1353" y="539.60" width="2" height="386.90"/>
<rect x="1357" y="539.60" width="2" height="398.14"/>
<rect x="1359" y="539.60" width="2" height="374.83"/>
<rect x="1360" y="539.60" width="2" height="368.89"/>
<rect x="1362" y="539.60" width="2" height="337.83"/>
<rect x="1363" y="539.60" width="2" height="329.44"/>
<rect x="1368" y="539.60" width="2" height="317.42"/>
<rect x="1369" y="539.60" width="2" height="310.67"/>
<rect x="1371" y="539.60" width="2" height="284.00"/>
<rect x="1372" y="539.60" width="2" height="284.34"/>
<rect x="1373" y="539.60" width="2" height="285.85"/>
<rect x="1378" y="539.60" width="2" height="278.69"/>
<rect x="1379" y="539.60" width="2" height="275.66"/>
<rect x="1381" y="539.60" width="2" height="271.35"/>
<rect x="1382" y="539.60" width="2" height="267.05"/>
<rect x="1384" y="539.60" width="2" height="261.98"/>
<rect x="1388" y="539.60" width="2" height="245.83"/>
<rect x="1390" y="539.60" width="2" height="240.99"/>
<rect x="1391" y="539.60" width="2" height="236.16"/>
<rect x="1392" y="539.60" width="2" height="231.32"/>
<rect x="1394" y="539.60" width="2" height="219.41"/>
<rect x="1398" y="539.60" width="2" height="174.16"/>
<rect x="1400" y="539.60" width="2" height="172.03"/>
<rect x="1401" y="539.60" width="2" height="169.90"/>
<rect x="1403" y="539.60" width="2" height="164.11"/>
<rect x="1404" y="539.60" width="2" height="157.20"/>
<rect x="1409" y="539.60" width="2" height="123.23"/>
<rect x="1410" y="539.60" width="2" height="105.97"/>
<rect x="1411" y="539.60" width="2" height="76.44"/>
<rect x="1413" y="539.60" width="2" height="45.34"/>
<rect x="1414" y="539.60" width="2" height="23.97"/>
<rect x="1419" y="529.75" width="2" height="9.85"/>
<rect x="1420" y="523.50" width="2" height="16.10"/>
<rect x="1422" y="521.55" width="2" height="18.05"/>
<rect x="1423" y="519.60" width="2" height="20.00"/>
<rect x="1425" y="508.23" width="2" height="31.37"/>
<rect x="1429" y="539.27" width="2" height="0.33"/>
<rect x="1431" y="539.60" width="2" height="1.58"/>
<rect x="1432" y="539.60" width="2" height="3.50"/>
<rect x="1433" y="539.60" width="2" height="5.42"/>
<rect x="1435" y="539.60" width="2" height="7.33"/>
<rect x="1439" y="539.60" width="2" height="20.39"/>
<rect x="1441" y="539.60" width="2" height="29.04"/>
<rect x="1442" y="539.60" width="2" height="34.07"/>
<rect x="1444" y="539.60" width="2" height="37.49"/>
<rect x="1445" y="539.60" width="2" height="40.92"/>
<rect x="1450" y="539.60" width="2" height="51.18"/>
<rect x="1451" y="539.60" width="2" height="54.61"/>
<rect x="1452" y="539.60" width="2" height="68.32"/>
<rect x="1454" y="539.60" width="2" height="87.55"/>
<rect x="1455" y="539.60" width="2" height="101.44"/>
<rect x="1460" y="539.60" width="2" height="112.94"/>
<rect x="1461" y="539.60" width="2" height="118.88"/>
<rect x="1463" y="539.60" width="2" height="130.22"/>
<rect x="1464" y="539.60" width="2" height="145.02"/>
<rect x="1466" y="539.60" width="2" height="159.59"/>
<rect x="1470" y="539.60" width="2" height="201.62"/>
<rect x="1471" y="539.60" width="2" height="207.19"/>
<rect x="1473" y="539.60" width="2" height="209.63"/>
<rect x="1474" y="539.60" width="2" height="212.08"/>
<rect x="1476" y="539.60" width="2" height="215.24"/>
<rect x="1480" y="539.60" width="2" height="234.90"/>
<rect x="1482" y="539.60" width="2" height="241.45"/>
<rect x="1483" y="539.60" width="2" height="247.26"/>
<rect x="1485" y="539.60" width="2" height="252.19"/>
<rect x="1486" y="539.60" width="2" height="257.12"/>
<rect x="1490" y="539.60" width="2" height="268.05"/>
<rect x="1492" y="539.60" width="2" height="271.88"/>
<rect x="1493" y="539.60" width="2" height="276.19"/>
<rect x="1495" y="539.60" width="2" height="279.28"/>
<rect x="1496" y="539.60" width="2" height="278.80"/>
<rect x="1501" y="539.60" width="2" height="273.04"/>
<rect x="1502" y="539.60" width="2" height="266.37"/>
<rect x="1504" y="539.60" width="2" height="259.16"/>
<rect x="1505" y="539.60" width="2" height="251.03"/>
<rect x="1507" y="539.60" width="2" height="243.04"/>
<rect x="1511" y="539.60" width="2" height="227.09"/>
<rect x="1512" y="539.60" width="2" height="223.93"/>
<rect x="1514" y="539.60" width="2" height="222.97"/>
<rect x="1515" y="539.60" width="2" height="222.01"/>
<rect x="1517" y="539.60" width="2" height="221.06"/>
<rect x="1521" y="539.60" width="2" height="216.62"/>
<rect x="1523" y="539.60" width="2" height="208.30"/>
<rect x="1524" y="539.60" width="2" height="191.75"/>
<rect x="1526" y="539.60" width="2" height="176.38"/>
<rect x="1527" y="539.60" width="2" height="179.33"/>
<rect x="1531" y="539.60" width="2" height="182.90"/>
<rect x="1533" y="539.60" width="2" height="176.63"/>
<rect x="1534" y="539.60" width="2" height="170.36"/>
<rect x="1536" y="539.60" width="2" height="164.78"/>
<rect x="1537" y="539.60" width="2" height="195.93"/>
<rect x="1542" y="539.60" width="2" height="213.58"/>
<rect x="1543" y="539.60" width="2" height="220.00"/>
<rect x="1545" y="539.60" width="2" height="226.43"/>
<rect x="1546" y="539.60" width="2" height="232.85"/>
<rect x="1548" y="539.60" width="2" height="230.87"/>
<rect x="1552" y="539.60" width="2" height="224.32"/>
<rect x="1553" y="539.60" width="2" height="220.56"/>
<rect x="1555" y="539.60" width="2" height="212.32"/>
<rect x="1556" y="539.60" width="2" height="204.08"/>
<rect x="1558" y="539.60" width="2" height="195.83"/>
<rect x="1562" y="539.60" width="2" height="189.44"/>
<rect x="1564" y="539.60" width="2" height="185.63"/>
<rect x="1565" y="539.60" width="2" height="173.38"/>
<rect x="1567" y="539.60" width="2" height="161.14"/>
<rect x="1568" y="539.60" width="2" height="151.67"/>
<rect x="1572" y="539.60" width="2" height="125.02"/>
<rect x="1574" y="539.60" width="2" height="113.00"/>
<rect x="1575" y="539.60" width="2" height="86.37"/>
<rect x="1577" y="539.60" width="2" height="59.74"/>
<rect x="1578" y="539.60" width="2" height="41.70"/>
<rect x="1583" y="539.60" width="2" height="11.97"/>
<rect x="1584" y="539.60" width="2" height="9.07"/>
<rect x="1586" y="539.60" width="2" height="6.18"/>
<rect x="1587" y="539.60" width="2" height="9.20"/>
<rect x="1588" y="539.60" width="2" height="12.84"/>
<rect x="1593" y="539.60" width="2" height="23.52"/>
<rect x="1594" y="539.60" width="2" height="25.76"/>
<rect x="1596" y="539.60" width="2" height="27.99"/>
<rect x="1597" y="539.60" width="2" height="25.81"/>
<rect x="1599" y="539.60" width="2" height="22.93"/>
<rect x="1603" y="537.52" width="2" height="2.08"/>
<rect x="1605" y="528.01" width="2" height="11.59"/>
<rect x="1606" y="518.50" width="2" height="21.10"/>
<rect x="1608" y="529.66" width="2" height="9.94"/>
<rect x="1609" y="529.89" width="2" height="9.71"/>
<rect x="1613" y="491.85" width="2" height="47.75"/>
<rect x="1615" y="490.39" width="2" height="49.21"/>
<rect x="1616" y="480.65" width="2" height="58.95"/>
<rect x="1618" y="469.96" width="2" height="69.64"/>
<rect x="1619" y="465.87" width="2" height="73.73"/>
<rect x="1624" y="475.66" width="2" height="63.94"/>
<rect x="1625" y="479.28" width="2" height="60.32"/>
<rect x="1627" y="492.52" width="2" height="47.08"/>
<rect x="1628" y="502.56" width="2" height="37.04"/>
<rect x="1629" y="510.47" width="2" height="29.13"/>
<rect x="1634" y="467.53" width="2" height="72.07"/>
<rect x="1635" y="446.78" width="2" height="92.82"/>
<rect x="1637" y="435.45" width="2" height="104.15"/>
<rect x="1638" y="423.21" width="2" height="116.39"/>
<rect x="1640" y="405.80" width="2" height="133.80"/>
<rect x="1644" y="389.73" width="2" height="149.87"/>
<rect x="1646" y="385.31" width="2" height="154.29"/>
<rect x="1647" y="363.33" width="2" height="176.27"/>
<rect x="1648" y="335.63" width="2" height="203.97"/>
<rect x="1650" y="333.52" width="2" height="206.08"/>
<rect x="1654" y="377.25" width="2" height="162.35"/>
<rect x="1656" y="395.03" width="2" height="144.57"/>
<rect x="1657" y="396.21" width="2" height="143.39"/>
<rect x="1659" y="411.32" width="2" height="128.28"/>
<rect x="1660" y="426.37" width="2" height="113.23"/>
<rect x="1665" y="470.61" width="2" height="68.99"/>
<rect x="1666" y="471.05" width="2" height="68.55"/>
<rect x="1667" y="471.49" width="2" height="68.11"/>
<rect x="1669" y="471.92" width="2" height="67.68"/>
<rect x="1670" y="490.60" width="2" height="49.00"/>
<rect x="1675" y="533.36" width="2" height="6.24"/>
<rect x="1678" y="539.60" width="2" height="3.22"/>
<rect x="1679" y="539.60" width="2" height="6.23"/>
<rect x="1681" y="539.60" width="2" height="16.39"/>
<rect x="1685" y="538.65" width="2" height="0.95"/>
<rect x="1686" y="535.72" width="2" height="3.88"/>
<rect x="1688" y="532.80" width="2" height="6.80"/>
<rect x="1689" y="539.60" width="2" height="17.07"/>
<rect x="1691" y="539.60" width="2" height="46.45"/>
<rect x="1695" y="539.60" width="2" height="74.55"/>
<rect x="1697" y="539.60" width="2" height="55.21"/>
<rect x="1698" y="539.60" width="2" height="35.87"/>
<rect x="1700" y="539.60" width="2" height="6.65"/>
<rect x="1701" y="527.68" width="2" height="11.92"/>
<rect x="1706" y="539.60" width="2" height="9.68"/>
<rect x="1707" y="539.60" width="2" height="19.40"/>
<rect x="1708" y="539.60" width="2" height="29.11"/>
<rect x="1710" y="539.60" width="2" height="3.70"/>
<rect x="1711" y="478.98" width="2" height="60.62"/>
<rect x="1716" y="470.12" width="2" height="69.48"/>
<rect x="1717" y="467.19" width="2" height="72.41"/>
<rect x="1719" y="467.96" width="2" height="71.64"/>
<rect x="1720" y="474.57" width="2" height="65.03"/>
<rect x="1722" y="481.17" width="2" height="58.43"/>
<rect x="1726" y="485.50" width="2" height="54.10"/>
<rect x="1727" y="485.35" width="2" height="54.25"/>
<rect x="1729" y="481.57" width="2" height="58.03"/>
<rect x="1730" y="477.78" width="2" height="61.82"/>
<rect x="1732" y="483.31" width="2" height="56.29"/>
<rect x="1736" y="488.44" width="2" height="51.16"/>
<rect x="1738" y="488.06" width="2" height="51.54"/>
<rect x="1739" y="500.56" width="2" height="39.04"/>
<rect x="1741" y="513.05" width="2" height="26.55"/>
<rect x="1742" y="530.83" width="2" height="8.77"/>
<rect x="1746" y="539.60" width="2" height="2.18"/>
<rect x="1748" y="539.60" width="2" height="3.15"/>
<rect x="1749" y="539.60" width="2" height="22.67"/>
<rect x="1751" y="539.60" width="2" height="43.23"/>
<rect x="1752" y="539.60" width="2" height="61.38"/>
<rect x="1757" y="539.60" width="2" height="99.50"/>
<rect x="1758" y="539.60" width="2" height="106.65"/>
<rect x="1760" y="539.60" width="2" height="113.95"/>
<rect x="1761" y="539.60" width="2" height="121.30"/>
<rect x="1763" y="539.60" width="2" height="128.66"/>
<rect x="1767" y="539.60" width="2" height="150.92"/>
<rect x="1768" y="539.60" width="2" height="158.49"/>
<rect x="1770" y="539.60" width="2" height="166.10"/>
<rect x="1771" y="539.60" width="2" height="173.73"/>
</g>
<path d="M170.4 943.0 L172.5 940.8 L174.6 928.0 L180.8 920.0 L183.0 909.6 L185.0 908.5 L187.0 924.0 L190.0 939.8 L193.0 933.5 L195.4 943.0 L200.6 955.4 L201.7 927.0 L203.7 943.0 L206.9 940.8 L211.0 930.4 L215.0 933.5 L215.2 922.0 L221.5 905.4 L224.6 905.4 L226.7 943.0 L233.0 923.0 L236.0 932.5 L239.0 955.4 L244.4 988.8 L247.5 971.0 L251.7 981.5 L253.8 954.4 L255.8 952.3 L262.0 957.5 L264.2 973.0 L267.3 959.6 L273.5 945.0 L274.6 934.6 L283.0 918.0 L285.0 926.0 L288.0 918.0 L293.3 894.0 L297.5 898.0 L303.8 889.8 L308.0 901.0 L309.0 876.0 L313.0 880.4 L316.0 871.0 L324.6 895.0 L328.8 866.9 L335.0 861.7 L339.0 840.8 L341.0 855.4 L345.4 856.5 L349.6 870.0 L352.7 861.7 L357.0 853.0 L360.0 893.0 L363.0 877.0 L365.0 880.4 L370.4 917.0 L374.6 898.0 L378.8 886.7 L380.8 897.0 L387.0 883.5 L390.0 915.8 L395.4 901.0 L400.6 921.0 L403.8 909.6 L407.0 915.8 L408.0 888.8 L411.0 901.0 L418.0 894.0 L421.5 931.5 L428.8 925.0 L430.8 894.0 L437.0 907.5 L441.0 898.0 L448.5 906.5 L450.6 888.8 L452.7 887.7 L455.8 898.0 L460.0 901.0 L461.0 921.0 L466.0 929.4 L470.4 936.7 L472.5 920.0 L478.8 907.5 L482.0 930.4 L489.0 968.0 L493.0 957.5 L498.5 969.0 L501.7 949.0 L507.0 966.9 L511.0 965.8 L514.0 938.8 L518.0 933.5 L522.5 922.0 L527.7 919.0 L532.0 907.5 L541.0 926.0 L545.0 922.0 L552.7 894.0 L557.3 890.4 L561.8 892.2 L562.8 881.3 L566.4 890.4 L570.0 878.6 L574.6 875.0 L580.0 864.0 L583.7 887.7 L588.3 877.7 L592.8 875.0 L594.7 877.7 L596.5 863.0 L602.0 851.2 L604.7 865.8 L610.2 857.6 L614.7 852.1 L616.5 861.3 L622.0 858.5 L623.0 850.3 L626.6 844.0 L630.2 848.5 L633.9 837.6 L635.7 853.0 L642.0 853.0 L645.7 817.5 L650.3 808.4 L654.8 796.5 L656.6 804.7 L661.2 803.8 L664.0 792.0 L664.8 803.0 L669.4 787.4 L675.8 759.2 L676.7 774.7 L681.3 781.0 L685.8 778.3 L688.5 787.4 L693.1 779.2 L696.7 804.7 L699.5 794.7 L705.0 786.5 L707.7 804.7 L715.9 800.2 L718.6 813.9 L726.0 799.3 L728.6 813.9 L735.0 810.2 L738.7 813.0 L739.6 803.0 L746.0 793.8 L747.8 782.9 L750.5 772.0 L755.0 760.0 L758.7 751.0 L765.1 757.3 L768.8 788.3 L771.5 790.2 L776.0 790.2 L777.9 798.4 L783.3 799.3 L787.0 804.7 L789.7 786.5 L794.3 806.6 L797.0 779.2 L803.4 784.7 L806.1 783.8 L818.0 830.3 L819.8 848.5 L822.5 832.0 L827.0 828.4 L829.0 839.4 L834.4 813.0 L838.0 812.0 L839.8 815.7 L846.2 808.4 L849.9 788.3 L852.6 795.6 L858.0 790.2 L860.0 791.0 L867.7 773.6 L870.2 768.4 L875.4 735.2 L879.2 712.1 L881.1 721.1 L883.7 709.6 L887.5 708.3 L890.0 716.0 L892.0 673.7 L897.1 676.3 L899.7 670.0 L901.0 694.2 L904.2 685.3 L909.3 680.1 L911.2 648.8 L914.4 658.4 L918.9 658.4 L919.5 677.0 L923.3 658.4 L926.5 680.1 L931.7 677.6 L932.3 652.6 L937.4 631.5 L941.3 641.1 L942.5 676.0 L945.1 673.7 L949.6 698.0 L952.1 696.8 L954.1 691.7 L958.5 667.4 L959.8 681.4 L962.4 655.8 L964.3 675.0 L968.8 659.7 L971.3 662.2 L972.6 675.0 L979.7 691.7 L983.5 661.6 L986.7 650.7 L993.1 639.8 L998.2 648.0 L1001.8 656.8 L1004.6 627.2 L1005.0 655.2 L1009.0 624.8 L1011.8 636.0 L1013.0 620.0 L1015.4 619.2 L1019.0 629.6 L1022.2 646.4 L1022.6 632.0 L1025.8 644.0 L1025.9 652.8 L1030.2 668.8 L1030.6 648.0 L1034.6 663.2 L1035.4 645.6 L1043.0 656.8 L1044.6 631.2 L1051.0 623.2 L1054.2 625.6 L1055.8 616.8 L1062.2 600.8 L1066.6 600.4 L1075.8 652.0 L1079.8 634.4 L1083.8 621.7 L1084.6 618.4 L1087.0 624.8 L1087.7 626.5 L1091.0 602.4 L1091.5 604.5 L1094.2 608.8 L1097.3 607.3 L1098.2 624.6 L1103.0 624.6 L1106.9 654.4 L1116.5 648.6 L1118.4 623.6 L1125.1 622.7 L1127.0 592.0 L1133.7 594.0 L1136.6 629.4 L1140.5 623.6 L1143.3 571.8 L1145.3 662.0 L1148.1 571.8 L1149.0 563.2 L1153.9 571.8 L1158.7 558.4 L1164.5 554.5 L1168.3 546.0 L1169.2 557.4 L1175.0 553.6 L1178.8 520.0 L1180.2 512.9 L1185.8 511.8 L1186.9 496.0 L1192.5 495.0 L1199.2 500.6 L1200.3 486.0 L1207.0 481.5 L1208.1 471.5 L1210.4 482.7 L1219.3 500.6 L1220.5 468.0 L1225.0 468.0 L1230.5 453.5 L1236.1 524.0 L1239.5 501.7 L1241.7 517.4 L1245.0 504.0 L1246.2 524.0 L1249.6 515.0 L1251.8 487.0 L1256.3 489.4 L1258.5 477.0 L1261.9 474.8 L1265.2 463.6 L1269.7 455.8 L1275.3 443.5 L1281.0 454.7 L1281.5 477.0 L1290.0 463.6 L1292.1 434.5 L1300.0 434.5 L1302.2 407.6 L1307.8 395.3 L1312.3 377.4 L1316.8 405.4 L1320.1 408.8 L1322.4 439.0 L1326.8 474.8 L1330.2 456.9 L1332.4 471.5 L1338.0 452.4 L1342.5 472.6 L1348.0 472.6 L1351.5 495.0 L1353.7 508.4 L1357.0 491.6 L1361.5 508.4 L1362.7 491.6 L1368.3 520.7 L1370.5 491.6 L1373.9 507.3 L1378.3 508.4 L1381.7 545.4 L1392.9 554.3 L1394.0 515.0 L1398.5 492.7 L1403.0 515.0 L1406.3 498.3 L1413.0 459.0 L1423.2 444.0 L1424.2 450.2 L1425.3 468.0 L1430.6 461.9 L1435.9 535.9 L1439.1 528.2 L1444.2 525.6 L1445.5 519.2 L1451.9 537.1 L1454.0 500.0 L1458.9 530.7 L1463.4 537.1 L1471.1 579.4 L1473.7 564.0 L1480.1 561.5 L1482.0 582.0 L1485.2 566.6 L1491.0 592.2 L1496.7 551.2 L1501.8 530.7 L1504.4 551.2 L1513.3 556.3 L1514.6 576.8 L1517.2 582.0 L1524.9 583.2 L1533.8 612.7 L1537.7 610.1 L1539.0 640.8 L1544.7 648.5 L1546.6 615.2 L1555.6 626.8 L1563.3 619.1 L1568.4 576.8 L1573.5 538.4 L1576.1 553.8 L1583.8 571.7 L1587.6 571.7 L1594.0 639.6 L1599.1 622.9 L1607.7 533.2 L1609.7 523.7 L1615.8 504.6 L1621.3 506.0 L1625.4 493.8 L1634.9 481.5 L1640.3 506.0 L1644.4 454.3 L1651.2 448.9 L1655.3 454.3 L1659.4 473.4 L1666.2 448.9 L1671.6 465.2 L1677.0 477.4 L1681.1 448.9 L1689.3 440.7 L1692.0 470.6 L1697.4 454.3 L1700.2 470.6 L1702.9 450.2 L1707.0 458.4 L1711.0 409.4 L1716.5 419.0 L1720.6 432.6 L1726.0 421.7 L1727.4 414.9 L1732.8 443.4 L1739.6 451.6 L1741.6 465.2 L1749.1 446.2 L1755.9 470.6 L1760.0 488.3 L1761.4 465.2 L1765.4 482.9 L1768.2 473.4 L1772.3 496.5 L1773.7 497.0" fill="none" stroke="#3baddb" stroke-width="5.4" stroke-linejoin="miter" stroke-miterlimit="2" stroke-linecap="butt"/>

<rect x="65" y="1180" width="47" height="6" fill="#3baddb"/>
<g font-size="51" fill="#000" stroke="#000" stroke-width="0.5">
<text x="124" y="1196.3" font-size="47" letter-spacing="-1">印度</text>
<text x="215.5" y="1196.3" textLength="121" lengthAdjust="spacingAndGlyphs">-S&amp;P</text>
<text x="343.5" y="1196.3" textLength="89" lengthAdjust="spacingAndGlyphs">BSE</text>
<text x="442.5" y="1196.3" textLength="181" lengthAdjust="spacingAndGlyphs">SENSEX</text>
<text x="633.5" y="1196.3" textLength="57" lengthAdjust="spacingAndGlyphs">30</text>
<text x="697" y="1196.3" textLength="188" lengthAdjust="spacingAndGlyphs">Index(L)</text>
</g>
<circle cx="949.9" cy="1175.2" r="23.9" fill="#ed9a03"/>
<g font-size="51" fill="#000" stroke="#000" stroke-width="0.5">
<text x="985" y="1196.3" textLength="656" lengthAdjust="spacingAndGlyphs">印度-外國資產組合淨投資-股市</text>
<text x="1640.5" y="1196.3" textLength="212" lengthAdjust="spacingAndGlyphs">(20MA,R)</text>
</g>
</svg>
</body></html>
